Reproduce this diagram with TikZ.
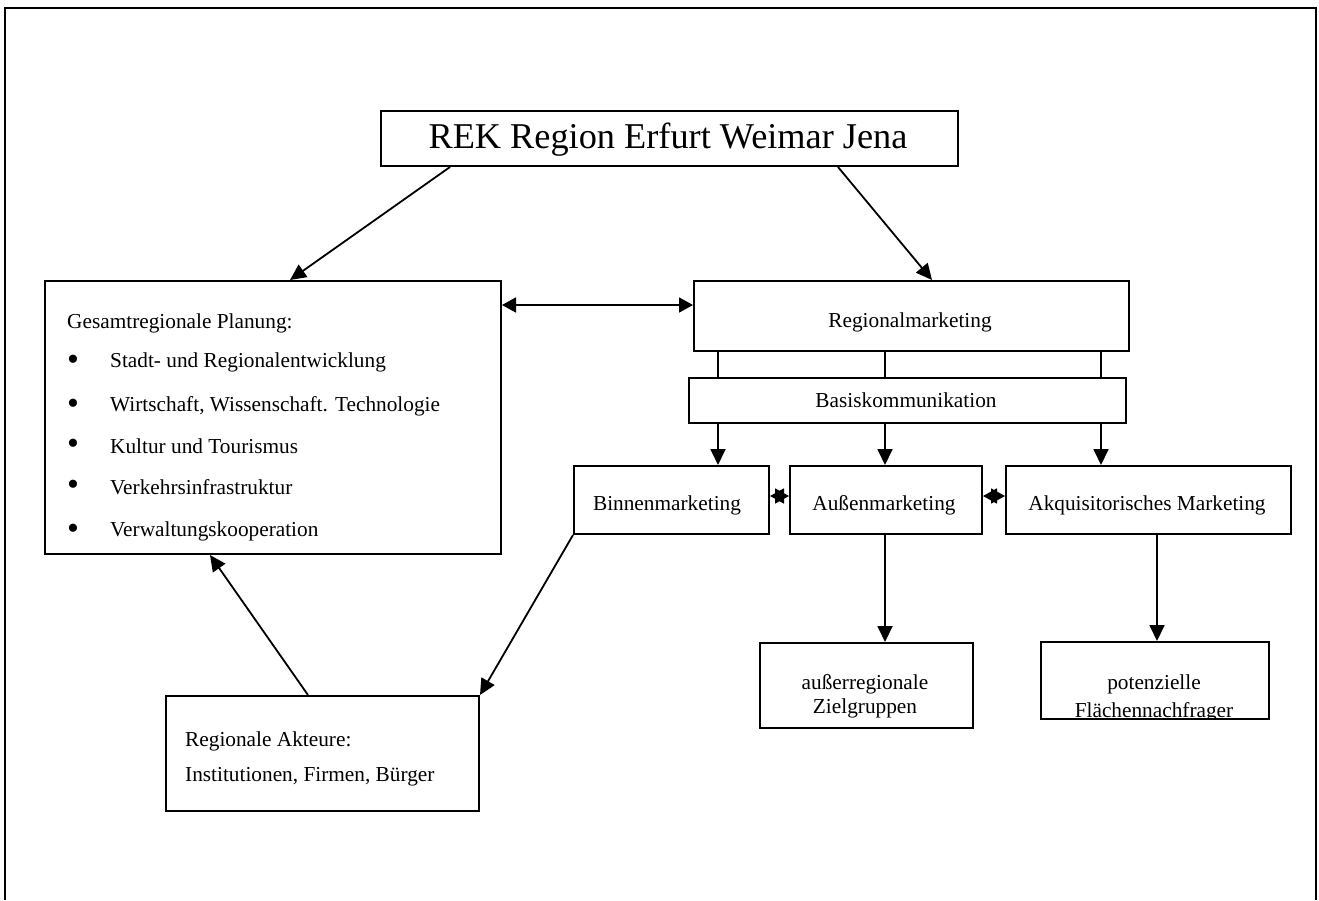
\documentclass[tikz,border=0pt]{standalone}
\usepackage{fontspec}
\setmainfont{Liberation Serif}
\usetikzlibrary{arrows.meta,calc}
\begin{document}
\begin{tikzpicture}[x=1pt,y=-1pt,
 box/.style={draw,line width=2pt,inner sep=0pt,anchor=north west},
 txt/.style={inner sep=0pt,font=\fontsize{21.3}{25}\selectfont},
 bul/.style={inner sep=0pt,font=\fontsize{34}{34}\selectfont},
 arr/.style={line width=1.8pt,-{Triangle[length=16pt,width=15pt]}},
 dbl/.style={line width=1.8pt,{Triangle[length=14pt,width=15pt]}-{Triangle[length=14pt,width=15pt]}},
 ln/.style={line width=1.8pt}]
\useasboundingbox (0,0) rectangle (1319,900);
\draw[line width=2pt] (5,900) -- (5,8) -- (1316,8) -- (1316,900);

% boxes
\node[box,minimum width=577,minimum height=55] (rek) at (380,110) {};
\node[box,minimum width=456,minimum height=273] (ges) at (44,280) {};
\node[box,minimum width=435,minimum height=70] (rm) at (693,280) {};
\node[box,minimum width=437,minimum height=45] (basis) at (688,377) {};
\node[box,minimum width=195,minimum height=68] (binnen) at (573,465) {};
\node[box,minimum width=192,minimum height=68] (aussen) at (789,465) {};
\node[box,minimum width=285,minimum height=68] (akq) at (1005,465) {};
\node[box,minimum width=213,minimum height=85] (ziel) at (759,642) {};
\node[box,minimum width=228,minimum height=77] (pot) at (1040,641) {};
\node[box,minimum width=313,minimum height=115] (akt) at (165,695) {};

% texts
\node[txt,font=\fontsize{36.3}{40}\selectfont] (trek) at (668,140) {REK Region Erfurt Weimar Jena};
\node[txt,anchor=west] (tges) at (67,323) {Gesamtregionale Planung:};
\foreach \y/\t [count=\i] in {362/Stadt- und Regionalentwicklung,406/{Wirtschaft, Wissenschaft. Technologie},446/Kultur und Tourismus,487/Verkehrsinfrastruktur,531/Verwaltungskooperation}{
  \node[bul] (b\i) at (73,\y+1) {•};
  \node[txt,anchor=west] (g\i) at (110,\y) {\t};
}
\node[txt] (trm) at (910,322) {Regionalmarketing};
\node[txt] (tbasis) at (906,400) {Basiskommunikation};
\node[txt] (tbinnen) at (667,505) {Binnenmarketing};
\node[txt] (taussen) at (884,505) {Außenmarketing};
\node[txt] (takq) at (1147,505) {Akquisitorisches Marketing};
\node[txt] (tziel1) at (865,684) {außerregionale};
\node[txt] (tziel2) at (865,708) {Zielgruppen};
\begin{scope}
\clip (1040,641) rectangle (1268,717);
\node[txt] (tpot1) at (1154,684) {potenzielle};
\node[txt] (tpot2) at (1154,712) {Flächennachfrager};
\end{scope}
\node[txt,anchor=west] (takt1) at (185,741) {Regionale Akteure:};
\node[txt,anchor=west] (takt2) at (185,777) {Institutionen, Firmen, Bürger};

% connectors
\draw[arr] ($(rek.south west)+(70,0)$) -- ($(ges.north west)+(246,0)$);
\draw[arr] ($(rek.south west)+(458,0)$) -- ($(rm.north west)+(239,0)$);
\draw[dbl] ($(ges.north east)+(0,25)$) -- ($(rm.north west)+(0,25)$);
\draw[ln] ($(rm.south west)+(25,0)$) -- ($(basis.north west)+(30,0)$);
\draw[ln] ($(rm.south west)+(192,0)$) -- ($(basis.north west)+(197,0)$);
\draw[ln] ($(rm.south west)+(408,0)$) -- ($(basis.north west)+(413,0)$);
\draw[arr] ($(basis.south west)+(30,0)$) -- ($(binnen.north west)+(145,0)$);
\draw[arr] ($(basis.south west)+(197,0)$) -- ($(aussen.north west)+(96,0)$);
\draw[arr] ($(basis.south west)+(413,0)$) -- ($(akq.north west)+(96,0)$);
\draw[dbl] ($(binnen.east)+(0,-4)$) -- ($(aussen.west)+(0,-4)$);
\draw[dbl] ($(aussen.east)+(0,-4)$) -- ($(akq.west)+(0,-4)$);
\draw[arr] ($(aussen.south west)+(96,0)$) -- ($(ziel.north west)+(126,0)$);
\draw[arr] ($(akq.south west)+(152,0)$) -- ($(pot.north west)+(117,0)$);
\draw[arr] (binnen.south west) -- (akt.north east);
\draw[arr] ($(akt.north west)+(143,0)$) -- ($(ges.south west)+(166,0)$);
\end{tikzpicture}
\end{document}
